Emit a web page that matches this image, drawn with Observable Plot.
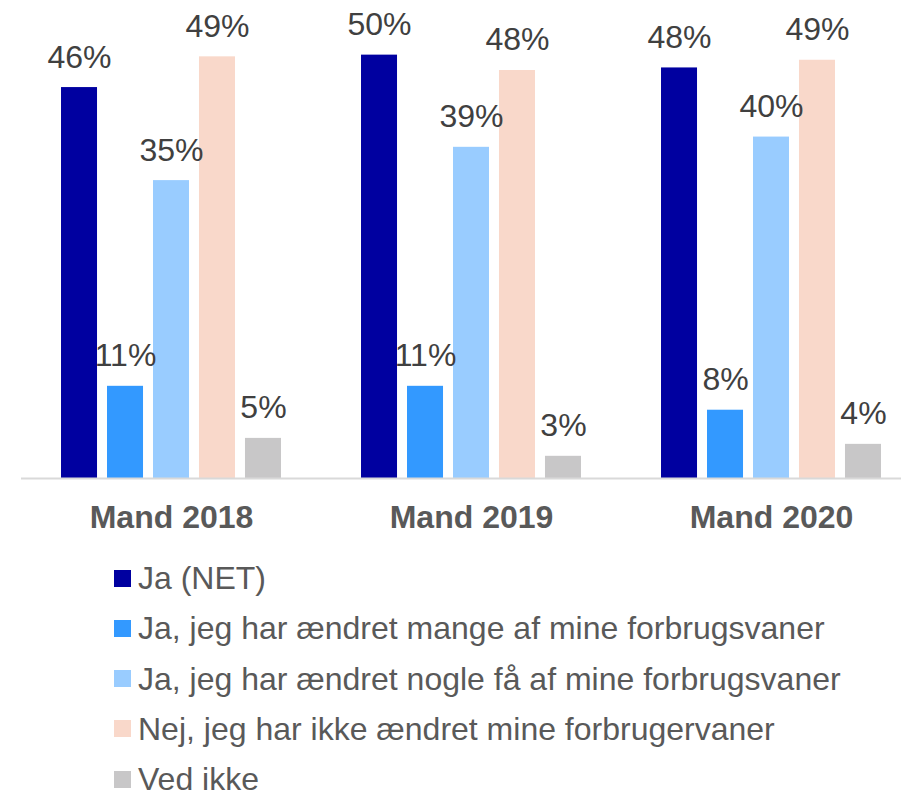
<!DOCTYPE html>
<html>
<head>
<meta charset="utf-8">
<script src="https://cdn.jsdelivr.net/npm/d3@7"></script>
<script src="https://cdn.jsdelivr.net/npm/@observablehq/plot@0.6"></script>
<style>
  html, body { margin: 0; padding: 0; background: #fff; }
  body { width: 901px; height: 798px; overflow: hidden; font-family: "Liberation Sans", Arial, sans-serif; }
  #legend { margin-top: 19px; padding-left: 114px; }
  .row { height: 28px; line-height: 28px; margin-bottom: 22.3px; display: flex; align-items: center; font-size: 32px; color: #595959; white-space: nowrap; }
  .row:last-child { margin-bottom: 0; }
  .row span { line-height: 28px; }
  .sw { width: 17px; height: 17px; margin-right: 7px; flex: none; }
</style>
</head>
<body>
<div id="chart"></div>
<div id="legend"></div>
<script>
const groups = ["Mand 2018", "Mand 2019", "Mand 2020"];
const series = [
  "Ja (NET)",
  "Ja, jeg har ændret mange af mine forbrugsvaner",
  "Ja, jeg har ændret nogle få af mine forbrugsvaner",
  "Nej, jeg har ikke ændret mine forbrugervaner",
  "Ved ikke"
];
const colors = ["#0000A0", "#3399FF", "#99CCFF", "#F9D8CA", "#C8C7C8"];
// values per series, in group order (2018, 2019, 2020)
const jaNet    = [45.8, 49.6, 48.1];
const jaMange  = [10.8, 10.8, 8.0];
const jaNogle  = [34.9, 38.8, 40.0];
const nej      = [49.4, 47.8, 49.0];
const vedIkke  = [4.7, 2.6, 4.0];

const seriesValues = [jaNet, jaMange, jaNogle, nej, vedIkke];
const data = [];
groups.forEach((g, gi) => {
  series.forEach((s, si) => {
    data.push({group: g, series: s, value: seriesValues[si][gi]});
  });
});

const chart = Plot.plot({
  width: 901,
  height: 545,
  marginTop: 0,
  marginBottom: 67,
  marginLeft: 21,
  marginRight: 0,
  style: {fontFamily: "'Liberation Sans', Arial, sans-serif", background: "#fff"},
  fx: {domain: groups, range: [21, 921], padding: 0, round: false, label: null},
  x: {domain: series, paddingInner: 0.217, paddingOuter: 0.87, round: false, axis: null},
  y: {domain: [0, 56], axis: null},
  color: {domain: series, range: colors},
  marks: [
    Plot.barY(data, {fx: "group", x: "series", y: "value", fill: "series"}),
    Plot.ruleY([0], {stroke: "#D9D9D9", strokeWidth: 2}),
    Plot.text(data, {fx: "group", x: "series", y: "value", text: d => Math.round(d.value) + "%",
      lineAnchor: "bottom", dy: -20, fontSize: 32, fill: "#404040"}),
    Plot.axisFx({anchor: "bottom", tickSize: 0, tickPadding: 27, fontSize: 32, fontWeight: "bold", fill: "#595959", label: null})
  ]
});
document.getElementById("chart").appendChild(chart);

const legend = document.getElementById("legend");
series.forEach((s, i) => {
  const row = document.createElement("div");
  row.className = "row";
  const sw = document.createElement("div");
  sw.className = "sw";
  sw.style.background = colors[i];
  const t = document.createElement("span");
  t.textContent = s;
  row.appendChild(sw);
  row.appendChild(t);
  legend.appendChild(row);
});
</script>
</body>
</html>
